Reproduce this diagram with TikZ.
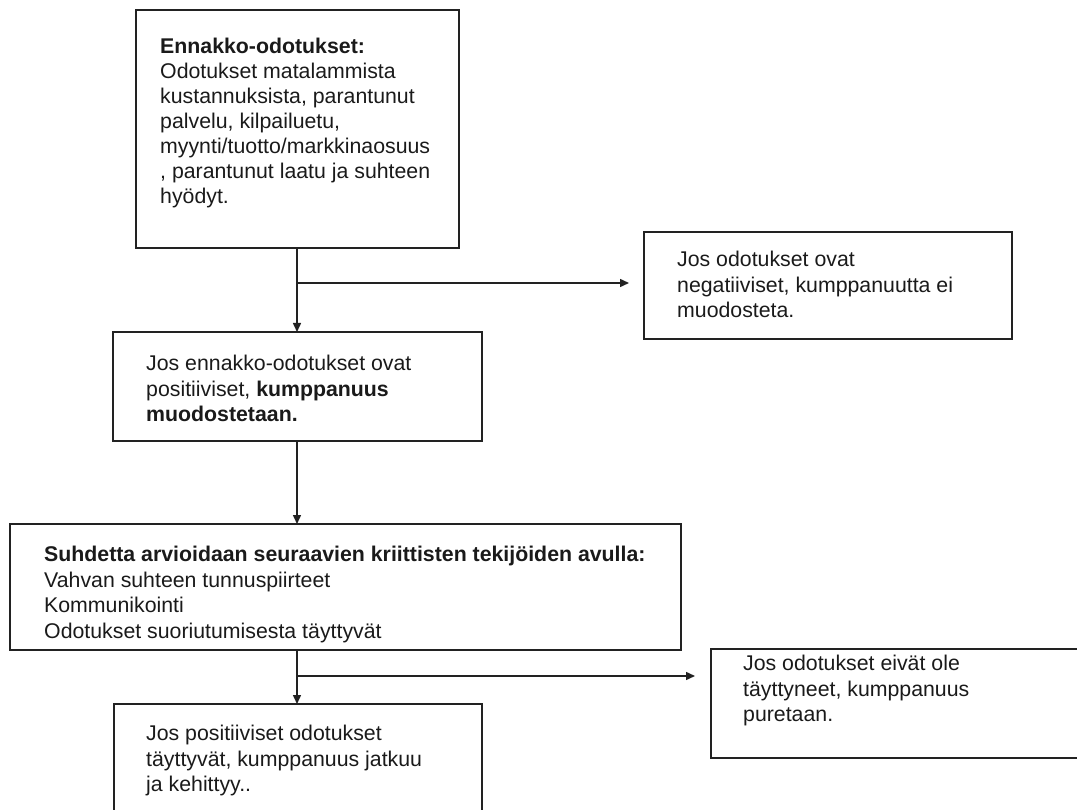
\documentclass[tikz,border=0pt]{standalone}
\usepackage{fontspec}
\setmainfont{Liberation Sans}
\usetikzlibrary{arrows.meta}
\definecolor{linegray}{HTML}{222222}
\definecolor{textgray}{HTML}{1A1A1A}
\begin{document}
\begin{tikzpicture}[x=1pt,y=-1pt,
  box/.style={draw=linegray, line width=1.6pt, anchor=north west, inner sep=0pt, outer sep=0pt},
  txt/.style={anchor=north west, inner sep=0pt, align=left, text=textgray,
              font=\fontsize{21.3}{25.5}\selectfont},
  flow/.style={draw=linegray, line width=1.5pt, -{Triangle[length=9pt,width=8pt]}}]
  \useasboundingbox (0,0) rectangle (1077,810);
  \clip (0,0) rectangle (1077,810);

  % boxes
  \node[box, minimum width=323pt, minimum height=238pt] (b1) at (136,10) {};
  \node[box, minimum width=368pt, minimum height=107pt] (b2) at (644,232) {};
  \node[box, minimum width=369pt, minimum height=109pt] (b3) at (113,332) {};
  \node[box, minimum width=671pt, minimum height=126pt] (b4) at (10,524) {};
  \node[box, minimum width=368pt, minimum height=120pt] (b5) at (114,704) {};
  \node[box, minimum width=400pt, minimum height=109pt] (b6) at (711,649) {};

  % texts
  \node[txt, font=\fontsize{21.3}{25}\selectfont] (t1) at (160,37.5) {\textbf{Ennakko-odotukset:}\\
    Odotukset matalammista\\
    kustannuksista, parantunut\\
    palvelu, kilpailuetu,\\
    myynti/tuotto/markkinaosuus\\
    , parantunut laatu ja suhteen\\
    hyödyt.};
  \node[txt] (t2) at (677,251) {Jos odotukset ovat\\
    negatiiviset, kumppanuutta ei\\
    muodosteta.};
  \node[txt] (t3) at (146,355) {Jos ennakko-odotukset ovat\\
    positiiviset, \textbf{kumppanuus}\\
    \textbf{muodostetaan.}};
  \node[txt] (t4) at (44,546) {\textbf{Suhdetta arvioidaan seuraavien kriittisten tekijöiden avulla:}\\
    Vahvan suhteen tunnuspiirteet\\
    Kommunikointi\\
    Odotukset suoriutumisesta täyttyvät};
  \node[txt] (t5) at (146,725) {Jos positiiviset odotukset\\
    täyttyvät, kumppanuus jatkuu\\
    ja kehittyy..};
  \node[txt] (t6) at (743,655) {Jos odotukset eivät ole\\
    täyttyneet, kumppanuus\\
    puretaan.};

  % connectors
  \coordinate (spine) at (297,0);
  \coordinate (j1) at (297,283);
  \coordinate (j2) at (297,676);
  \draw[flow] (spine |- b1.south) -- (spine |- b3.north);
  \draw[flow] (j1) -- ([xshift=-15pt]b2.west |- j1);
  \draw[flow] (spine |- b3.south) -- (spine |- b4.north);
  \draw[flow] (spine |- b4.south) -- (spine |- b5.north);
  \draw[flow] (j2) -- ([xshift=-16pt]b6.west |- j2);
\end{tikzpicture}
\end{document}
